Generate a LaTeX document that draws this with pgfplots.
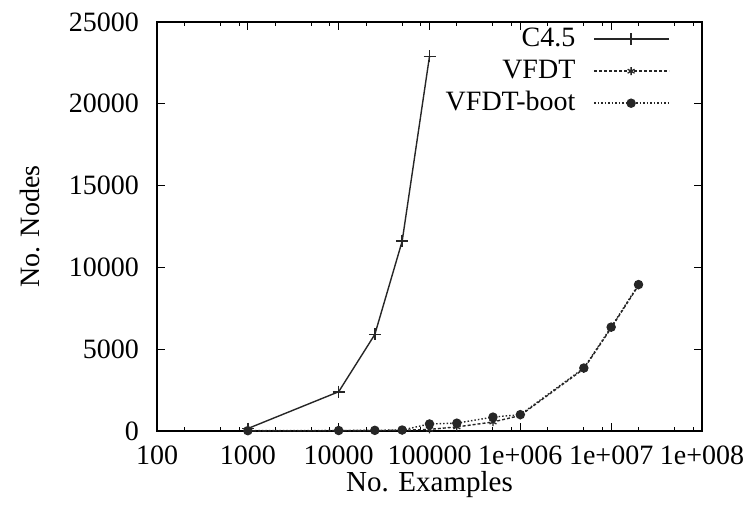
\documentclass[border=0pt]{standalone}
\usepackage{fontspec}
\setmainfont{Liberation Serif}
\usepackage{pgfplots}
\pgfplotsset{compat=1.18}
\definecolor{ln}{HTML}{262626}
\begin{document}
\fontsize{28bp}{32bp}\selectfont
\begin{tikzpicture}
\path[use as bounding box] (-157bp,-86bp) rectangle (591bp,431bp);
\begin{axis}[
  at={(0,0)}, anchor=south west,
  scale only axis, width=545bp, height=409bp,
  xmode=log, log basis x=10,
  xmin=100, xmax=1e8, ymin=0, ymax=25000,
  scaled y ticks=false,
  xtick={100,1000,10000,100000,1000000,10000000,100000000},
  xticklabels={100,1000,10000,100000,1e+006,1e+007,1e+008},
  minor xtick={200,500,800,2000,5000,8000,20000,50000,80000,200000,500000,800000,2000000,5000000,8000000,20000000,50000000,80000000},
  ytick={0,5000,10000,15000,20000,25000},
  yticklabels={0,5000,10000,15000,20000,25000},
  /pgf/number format/assume math mode=true,
  tick align=inside,
  major tick length=8bp, minor tick length=4bp,
  every tick/.style={black, line width=1bp},
  axis line style={black, line width=1.3bp},
  yticklabel style={anchor=east, inner sep=0pt, xshift=-18bp},
  xticklabel style={anchor=north, inner sep=0pt, yshift=-15bp},
  every axis x label/.style={at={(rel axis cs:0.5,0)}, anchor=center, yshift=-54bp, font=\fontsize{29bp}{32bp}\selectfont},
  every axis y label/.style={at={(rel axis cs:0,0.5)}, rotate=90, anchor=center, yshift=127bp},
  xlabel={No. Examples},
  ylabel={No. Nodes},
  legend cell align=right,
  legend plot pos=right,
  legend image code/.code={\draw[mark repeat=2,mark phase=2] plot coordinates {(0bp,0bp) (37bp,0bp) (75bp,0bp)};},
  legend style={at={(1,1)}, anchor=north east, xshift=-32bp, yshift=-4bp,
    draw=none, fill=none, inner sep=0pt, row sep=6bp, column sep=18bp,
    nodes={inner sep=0pt, text height=20bp, text depth=6bp}},
]
\addplot[ln, line width=1.4bp, mark=+, mark size=6bp, mark options={solid, line width=1.6bp}]
  coordinates {(1000,150) (10000,2400) (25000,5900) (50000,11600) (100000,22900)};
\addlegendentry{C4.5}
\addplot[ln, line width=1.4bp, dash pattern=on 3bp off 2bp, mark=asterisk, mark size=4bp, mark options={solid, line width=1.3bp}]
  coordinates {(1000,10) (10000,20) (25000,30) (50000,40) (100000,100) (200000,250) (500000,550) (1000000,950) (5000000,3800) (10000000,6300) (20000000,8900)};
\addlegendentry{VFDT}
\addplot[ln, line width=1.4bp, dash pattern=on 1.5bp off 2bp, mark=*, mark size=4bp, mark options={solid, fill=ln}]
  coordinates {(1000,20) (10000,30) (25000,40) (50000,60) (100000,430) (200000,480) (500000,850) (1000000,1000) (5000000,3850) (10000000,6350) (20000000,8950)};
\addlegendentry{VFDT-boot}
\end{axis}
\end{tikzpicture}
\end{document}
